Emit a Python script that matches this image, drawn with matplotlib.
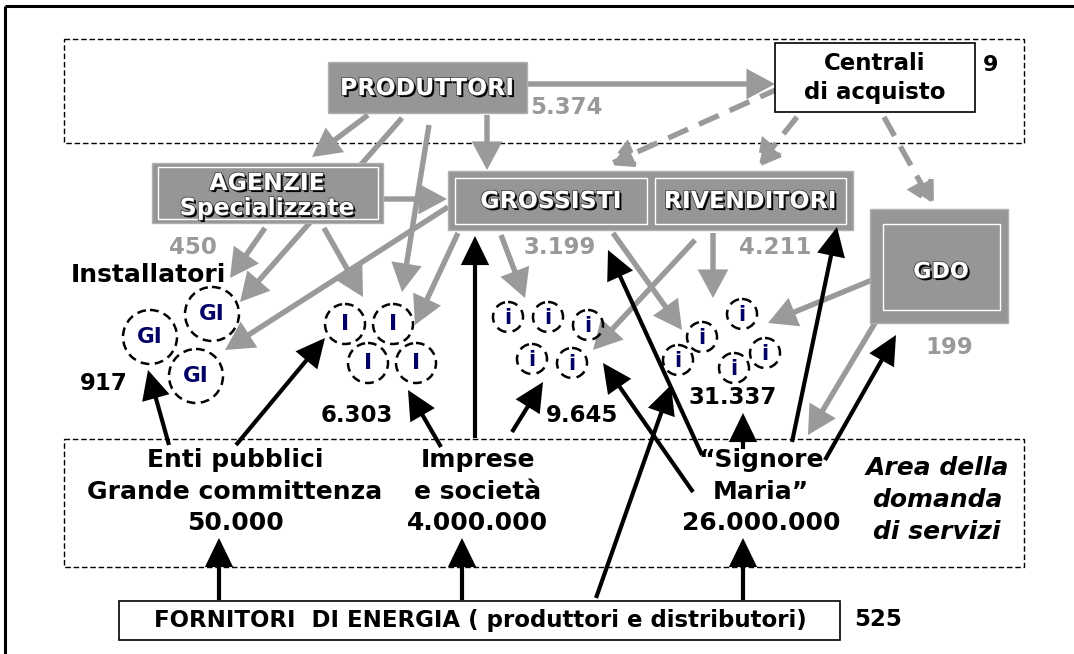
import matplotlib
matplotlib.use("Agg")
import matplotlib.pyplot as plt
import matplotlib.patheffects as pe
from matplotlib.patches import Rectangle, Circle, FancyArrowPatch

# --- text content ---
box_names = ["PRODUTTORI", "AGENZIE\nSpecializzate", "GROSSISTI", "RIVENDITORI", "GDO"]
box_counts = ["5.374", "450", "3.199", "4.211", "199"]
centrali_label = ["Centrali", "di acquisto"]
centrali_count = "9"
installer_counts = ["917", "6.303", "9.645", "31.337"]
demand_groups = [["Enti pubblici", "Grande committenza", "50.000"],
                 ["Imprese", "e società", "4.000.000"],
                 ["\u201cSignore", "Maria\u201d", "26.000.000"]]
area_label = ["Area della", "domanda", "di servizi"]
energy_label = "FORNITORI  DI ENERGIA ( produttori e distributori)"
energy_count = "525"

GRAY = "#969696"
GRAY_TXT = "#999999"
NAVY = "#000066"

fig = plt.figure(figsize=(10.74, 6.54), dpi=100)
ax = fig.add_axes([0, 0, 1, 1])
ax.set_xlim(0, 1074)
ax.set_ylim(654, 0)
ax.axis("off")

# outer frame (top + left only visible)
ax.plot([5, 1074], [6, 6], color="black", lw=2.2, solid_capstyle="butt")
ax.plot([5, 5], [6, 654], color="black", lw=2.2, solid_capstyle="butt")

# dashed areas
for (x0, y0, x1, y1) in [(64, 39, 1024, 143), (64, 439, 1024, 567)]:
    ax.add_patch(Rectangle((x0, y0), x1 - x0, y1 - y0, fill=False, ec="black",
                           lw=1.0, ls=(0, (4, 2)), zorder=1))

shadow = [pe.SimplePatchShadow(offset=(1.5, -1.5), shadow_rgbFace="black", alpha=1),
          pe.Stroke(linewidth=1.0, foreground="#303030"), pe.Normal()]


def gbox(x0, y0, x1, y1, inner=None):
    ax.add_patch(Rectangle((x0, y0), x1 - x0, y1 - y0, fc=GRAY, ec="#b0b0b0", lw=1, zorder=3))
    if inner:
        for (a, b, c, d) in inner:
            ax.add_patch(Rectangle((a, b), c - a, d - b, fill=False, ec="white", lw=1, zorder=3))


def wtext(x, y, s, size=17):
    ax.text(x, y, s, color="white", fontsize=size, fontweight="bold", ha="center", va="center",
            path_effects=shadow, zorder=6)


def arrow(x0, y0, x1, y1, color, lw, hl, hw, ls="-", z=2):
    a = FancyArrowPatch((x0, y0), (x1, y1), arrowstyle=f"-|>,head_length={hl},head_width={hw}",
                        mutation_scale=10, color=color, lw=lw, linestyle=ls,
                        shrinkA=0, shrinkB=0, zorder=z, joinstyle="miter", capstyle="butt")
    ax.add_patch(a)


# boxes
gbox(328, 62, 527, 113)
wtext(427, 88, box_names[0])
gbox(152, 163, 383, 223, inner=[(158, 167, 378, 219)])
wtext(267, 183, box_names[1].split("\n")[0])
wtext(267, 208, box_names[1].split("\n")[1])
gbox(448, 171, 853, 230, inner=[(455, 178, 647, 224), (655, 178, 846, 224)])
wtext(551, 201, box_names[2])
wtext(750, 201, box_names[3])
gbox(870, 209, 1008, 323, inner=[(883, 224, 1000, 310)])
wtext(941, 272, box_names[4], 16)

ax.add_patch(Rectangle((775, 43), 200, 69, fc="white", ec="black", lw=1.2, zorder=3))
ax.text(875, 63, centrali_label[0], fontsize=16.5, fontweight="bold", ha="center", va="center", zorder=6)
ax.text(875, 92, centrali_label[1], fontsize=16.5, fontweight="bold", ha="center", va="center", zorder=6)
ax.text(991, 65, centrali_count, fontsize=16, fontweight="bold", ha="center", va="center")

# gray counts
for s, (x, y) in zip(box_counts, [(530, 107), (193, 247), (560, 247), (775, 247), (949, 347)]):
    ax.text(x, y, s, color=GRAY_TXT, fontsize=16.5, fontweight="bold",
            ha="left" if s == box_counts[0] else "center", va="center", zorder=6)

# gray arrows
gray_arrows = [(527, 84, 775, 84), (368, 115, 312, 157), (402, 118, 240, 302), (429, 125, 402, 292),
               (487, 115, 487, 170), (384, 199, 447, 199), (265, 228, 230, 278), (324, 228, 363, 297),
               (448, 207, 225, 350), (458, 233, 415, 325), (501, 235, 525, 298), (695, 240, 593, 350),
               (713, 233, 713, 298), (613, 233, 682, 330), (872, 280, 768, 323), (875, 323, 808, 435)]
for (x0, y0, x1, y1) in gray_arrows:
    arrow(x0, y0, x1, y1, "#9a9a9a", 3.9, 1.45, 0.78)

dashed_arrows = [(780, 88, 608, 165), (797, 117, 756, 168), (884, 117, 934, 207)]
for (x0, y0, x1, y1) in dashed_arrows:
    arrow(x0, y0, x1, y1, "#9a9a9a", 3.9, 1.45, 0.78, ls=(0, (4, 2.2)))

# installer circles
gi_pos = [(150, 337), (212, 314), (196, 376)]
for (x, y) in gi_pos:
    ax.add_patch(Circle((x, y), 27, fill=False, ec="black", lw=1.8, ls=(0, (3.5, 2.2)), zorder=4))
    ax.text(x, y, "GI", color=NAVY, fontsize=15.5, fontweight="bold", ha="center", va="center", zorder=6)
i_pos = [(345, 324), (393, 324), (368, 363), (416, 363)]
for (x, y) in i_pos:
    ax.add_patch(Circle((x, y), 20, fill=False, ec="black", lw=1.8, ls=(0, (3.5, 2.2)), zorder=4))
    ax.text(x, y, "I", color=NAVY, fontsize=16, fontweight="bold", ha="center", va="center", zorder=6)
small_pos = [(508, 317), (548, 317), (588, 325), (532, 359), (572, 363),
             (702, 337), (678, 360), (742, 314), (765, 353), (734, 368)]
for (x, y) in small_pos:
    ax.add_patch(Circle((x, y), 15, fill=False, ec="black", lw=1.8, ls=(0, (4, 2.5)), zorder=4))
    ax.text(x, y + 1, "i", color=NAVY, fontsize=15, fontweight="bold", ha="center", va="center", zorder=6)

ax.text(148, 275, "Installatori", fontsize=18, fontweight="bold", ha="center", va="center", zorder=6)
for s, (x, y) in zip(installer_counts, [(104, 383), (357, 415), (582, 415), (733, 397)]):
    ax.text(x, y, s, fontsize=16.5, fontweight="bold", ha="center", va="center", zorder=6)

# demand groups
for grp, x in zip(demand_groups, [235, 478, 761]):
    for s, y in zip(grp, [460, 492, 523]):
        ax.text(x, y, s, fontsize=18, fontweight="bold", ha="center", va="center", zorder=6)
for s, y in zip(area_label, [468, 500, 532]):
    ax.text(937, y, s, fontsize=18, fontweight="bold", style="italic", ha="center", va="center", zorder=6)

# energy box
ax.add_patch(Rectangle((119, 601), 721, 39, fc="white", ec="black", lw=1.2, zorder=3))
ax.text(480, 621, energy_label, fontsize=16.5, fontweight="bold", ha="center", va="center", zorder=6)
ax.text(878, 620, energy_count, fontsize=16.5, fontweight="bold", ha="center", va="center")

# black arrows
black_arrows = [(219, 600, 219, 538), (462, 600, 462, 538), (743, 600, 743, 538), (596, 598, 671, 385),
                (169, 445, 148, 370), (236, 445, 325, 338), (441, 447, 408, 390), (475, 438, 475, 236),
                (512, 432, 543, 382), (693, 492, 603, 363), (702, 455, 608, 250), (743, 449, 743, 413),
                (792, 442, 837, 227), (825, 460, 896, 335)]
for (x0, y0, x1, y1) in black_arrows:
    arrow(x0, y0, x1, y1, "black", 3.0, 1.6, 0.78, z=5)

fig.savefig("out.png", dpi=100)
